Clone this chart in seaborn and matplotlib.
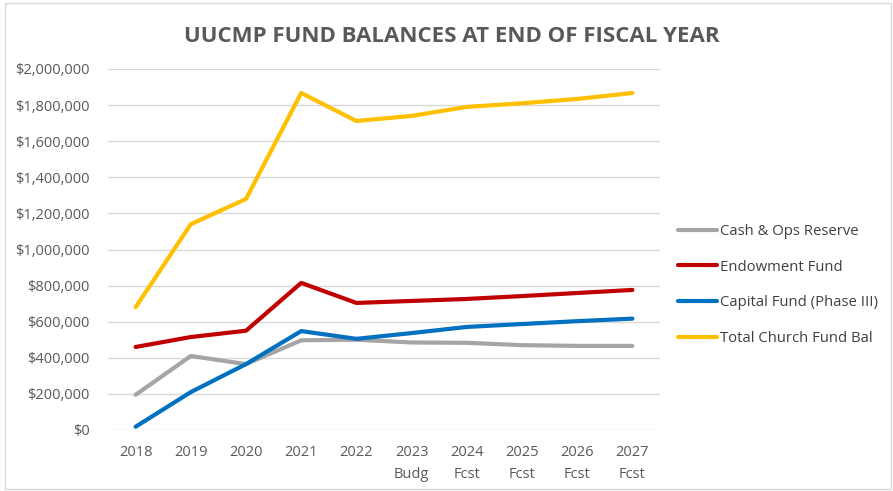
import matplotlib
matplotlib.use("Agg")
import matplotlib.pyplot as plt
import matplotlib.ticker as mticker
from matplotlib.patches import Rectangle
import seaborn as sns
import pandas as pd

years = ["2018", "2019", "2020", "2021", "2022", "2023\nBudg", "2024\nFcst", "2025\nFcst", "2026\nFcst", "2027\nFcst"]
cash_ops = [195000, 410000, 365000, 497000, 500000, 485000, 483000, 470000, 466000, 466000]
endowment = [460000, 515000, 550000, 815000, 704000, 715000, 726000, 742000, 759000, 776000]
capital = [18000, 210000, 365000, 548000, 505000, 537000, 571000, 587000, 603000, 617000]
total = [680000, 1140000, 1280000, 1867000, 1712000, 1740000, 1790000, 1810000, 1834000, 1867000]
series_names = ["Cash & Ops Reserve", "Endowment Fund", "Capital Fund (Phase III)", "Total Church Fund Bal"]
colors = ["#A5A5A5", "#C00000", "#0070C0", "#FFC000"]

rows = []
for name, vals in zip(series_names, [cash_ops, endowment, capital, total]):
    for i, v in enumerate(vals):
        rows.append({"x": i, "value": v, "series": name})
df = pd.DataFrame(rows)

sns.set_style("white")
plt.rcParams["font.family"] = ["Open Sans", "DejaVu Sans"]

fig = plt.figure(figsize=(8.93, 4.91), dpi=100)
ax = fig.add_axes([108/893, 61/491, 552/893, 361/491])

sns.lineplot(data=df, x="x", y="value", hue="series", hue_order=series_names,
             palette=colors, linewidth=3, ax=ax, legend=True)

ax.set_xlim(-0.5, 9.5)
ax.set_ylim(0, 2000000)
ax.yaxis.set_major_locator(mticker.MultipleLocator(200000))
ax.yaxis.set_major_formatter(mticker.FuncFormatter(lambda v, p: "${:,.0f}".format(v)))
ax.set_xticks(range(len(years)))
ax.set_xticklabels(years, linespacing=1.6)
ax.grid(axis="y", color="#D9D9D9", linewidth=1)
ax.set_axisbelow(True)
for s in ax.spines.values():
    s.set_visible(False)
ax.tick_params(axis="both", length=0, labelsize=10.5, colors="#595959")
ax.tick_params(axis="y", pad=13)
ax.tick_params(axis="x", pad=11)
ax.set_xlabel("")
ax.set_ylabel("")

handles, labels = ax.get_legend_handles_labels()
ax.legend(handles, labels, loc="center left", bbox_to_anchor=(678/893, 1 - 285/491),
          bbox_transform=fig.transFigure, frameon=False, fontsize=10.7, borderpad=0,
          borderaxespad=0, labelcolor="#404040", handlelength=2.6, handletextpad=0.25,
          labelspacing=1.4)

fig.text(452/893, 1 - 36/491, "UUCMP FUND BALANCES AT END OF FISCAL YEAR",
         ha="center", va="center", fontsize=16, fontweight="bold", color="#595959")

fig.patches.append(Rectangle((5/893, 2/491), 886/893, 486/491, transform=fig.transFigure,
                             fill=False, edgecolor="#D9D9D9", linewidth=1))

fig.savefig("out.png", dpi=100)
